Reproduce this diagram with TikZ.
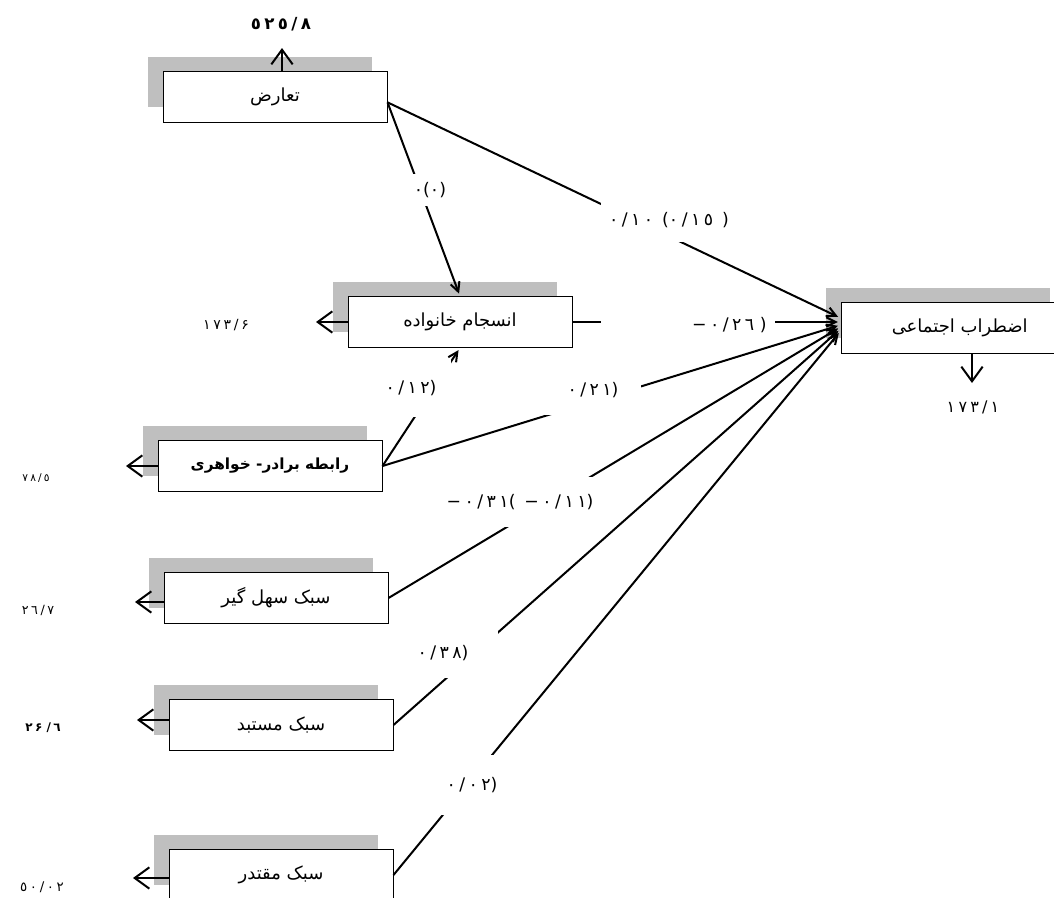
\documentclass[tikz,border=0pt]{standalone}
\usepackage{fontspec}
\usepackage{tikz}
\usetikzlibrary{arrows.meta,shadows}
\newfontfamily\fa[Script=Arabic]{DejaVu Sans}
\newfontfamily\num[LetterSpace=20]{DejaVu Sans}
\TeXXeTstate=1
\newcommand\po{\kern0pt(\kern0pt}
\newcommand\pc{\kern0pt)\kern0pt}

\begin{document}
\begin{tikzpicture}[x=0.75pt,y=-0.75pt,
  varbox/.style={draw,line width=0.75pt,fill=white,minimum width=168pt,minimum height=38pt,
    drop shadow={shadow xshift=-11.25pt,shadow yshift=11.25pt,fill=black!25,opacity=1},
    font=\fa\fontsize{13.5}{16}\selectfont},
  coef/.style={fill=white,inner sep=6pt,font=\num\fontsize{13}{15}\selectfont},
  errv/.style={font=\num\fontsize{10}{12}\selectfont},
  link/.style={line width=1.5pt,shorten >=2pt,-{Straight Barb[length=7pt,width=7pt]}},
  outarr/.style={line width=1.5pt,-{Straight Barb[length=11pt,width=16pt]}}]
  \useasboundingbox (0,0) rectangle (1054,897);

  % variables
  \node[varbox] (taz) at (275,97) {\beginR تعارض\endR};
  \node[varbox] (ens) at (460,322) {\beginR انسجام خانواده\endR};
  \node[varbox,font=\fa\bfseries\fontsize{11.5}{14}\selectfont] (rab) at (270,466) {\beginR رابطه برادر- خواهری\endR};
  \node[varbox] (sahl) at (276,598) {\beginR سبک سهل گیر\endR};
  \node[varbox] (mos) at (281,725) {\beginR سبک مستبد\endR};
  \node[varbox] (moq) at (281,875) {\beginR سبک مقتدر\endR};
  \node[varbox] (ezt) at (953,328) {\hspace*{10pt}\beginR اضطراب اجتماعی\endR};

  % error terms
  \coordinate (tazo) at (282,48);
  \coordinate (enso) at (316,322);
  \coordinate (rabo) at (126,466);
  \coordinate (sahlo) at (135,602);
  \coordinate (moso) at (137,720);
  \coordinate (moqo) at (133,878);
  \coordinate (ezto) at (972,383);
  \draw[outarr] (taz.north -| tazo) -- (tazo);
  \draw[outarr] (ens.west) -- (enso);
  \draw[outarr] (rab.west) -- (rabo);
  \draw[outarr] (sahlo -| sahl.west) -- (sahlo);
  \draw[outarr] (moso -| mos.west) -- (moso);
  \draw[outarr] (moqo -| moq.west) -- (moqo);
  \draw[outarr] (ezto |- ezt.south) -- (ezto);

  \node[errv,font=\num\bfseries\fontsize{12.5}{15}\selectfont] (tazv) at (281,24) {٥٢٥/٨};
  \node[errv,font=\num\fontsize{10.5}{12}\selectfont] (ensv) at (226,325) {١٧٣/۶};
  \node[errv,font=\num\fontsize{8}{10}\selectfont] (rabv) at (36,478) {٧٨/٥};
  \node[errv,font=\num\fontsize{9.5}{11}\selectfont] (sahlv) at (38,610) {٢٦/٧};
  \node[errv,font=\num\bfseries\fontsize{9}{11}\selectfont] (mosv) at (43,728) {٢۶\hspace{0.35em}/٦};
  \node[errv] (moqv) at (42,887) {٥٠/٠٢};
  \node[errv,font=\num\fontsize{12}{15}\selectfont] (eztv) at (973,407) {١٧٣/١};

  % paths
  \draw[link] ([yshift=-4pt]taz.east) -- ([yshift=7.5pt]ezt.west);
  \draw[link] ([yshift=-4pt]taz.east) -- (ens.north);
  \draw[link] (ens.east) -- ([yshift=4.5pt]ezt.west);
  \draw[link] (rab.east) -- (ens.south);
  \draw[link] (rab.east) -- ([yshift=2.25pt]ezt.west);
  \draw[link] (sahl.east) -- ([yshift=0.75pt]ezt.west);
  \draw[link] (mos.east) -- ([yshift=-0.75pt]ezt.west);
  \draw[link] (moq.east) -- ([yshift=-2.25pt]ezt.west);

  \node[coef,minimum height=33pt] (la) at (669,220) {٠/١٠ \po{}٠/١٥ \pc};
  \node[coef] (lb) at (430,190) {٠\po{}٠\pc};
  \node[coef,anchor=east,text width=118pt,align=right] (lc) at (775,325) {−٠/٢٦ \pc};
  \node[coef,minimum width=60pt,minimum height=44pt] (ld) at (411,388) {٠/١٢\pc};
  \node[coef,minimum width=72pt,minimum height=37.5pt] (le) at (593,390) {٠/٢١\pc};
  \node[coef,minimum height=37.5pt] (lf) at (520,502) {−٠/٣١\po{} −٠/١١\pc};
  \node[coef,minimum width=82.5pt,minimum height=37.5pt] (lg) at (443,653) {٠/٣٨\pc};
  \node[coef,minimum width=60pt,minimum height=45pt] (lh) at (472,785) {٠/٠٢\pc};
\end{tikzpicture}
\end{document}
